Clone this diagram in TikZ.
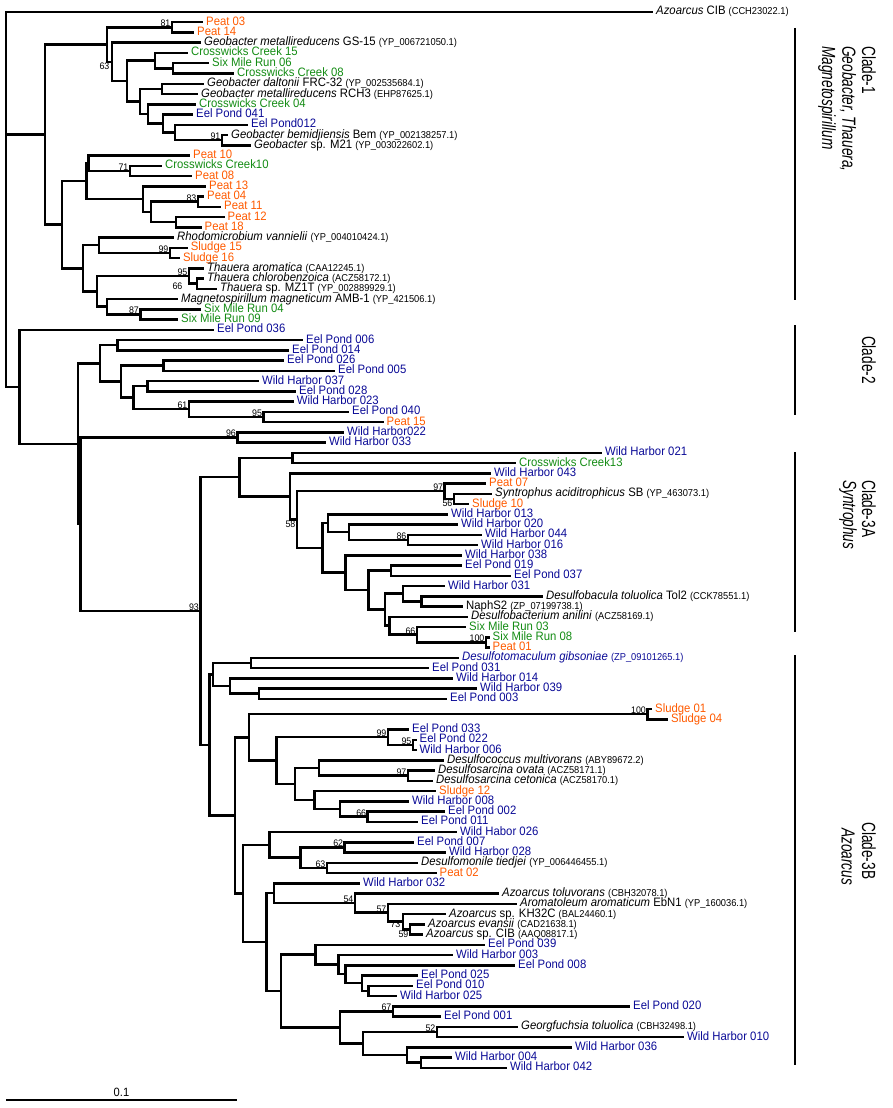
\documentclass[tikz,border=0pt]{standalone}
\usepackage{fontspec}
\setmainfont[FakeStretch=0.93]{Liberation Sans}
\newfontfamily\cladefont[FakeStretch=0.72]{Liberation Sans}
\usetikzlibrary{calc}
\definecolor{orng}{RGB}{255,90,0}
\definecolor{grn}{RGB}{20,140,20}
\definecolor{blu}{RGB}{10,10,150}
\newcommand\acc[1]{{\fontsize{10}{10}\selectfont #1}}
\newcommand\leaf[5]{\coordinate (#1) at (#3,{12+(#2-1)*10.25});\node[lab,#4] (#1t) at (#1) {#5};}
\newcommand\inode[4]{\path let \p1=($(#3)!0.5!(#4)$) in (#2pt,\y1) coordinate (#1);\draw[br] (#3) -| (#1) |- (#4);}
\tikzset{
  br/.style={line width=2.5pt, line cap=rect, line join=miter},
  lab/.style={anchor=west, inner sep=0pt, xshift=4pt, font=\fontsize{12.2}{12.2}\selectfont, text height=7pt, text depth=1pt},
  orl/.style={text=orng}, grl/.style={text=grn}, bll/.style={text=blu},
  bs/.style={inner sep=0.4pt, font=\fontsize{9.5}{9.5}\selectfont, text height=6.5pt, text depth=0pt},
  clade/.style={rotate=-90, inner sep=0pt, font=\cladefont\fontsize{19}{19}\selectfont},
  cbar/.style={line width=2.2pt},
}
\begin{document}
\begin{tikzpicture}[x=1pt,y=-1pt]
\useasboundingbox (0,0) rectangle (892,1108);
% ---- leaves
\leaf{L1}{1}{652}{}{\textit{Azoarcus} CIB \acc{(CCH23022.1)}}
\leaf{L2}{2}{202}{orl}{Peat 03}
\leaf{L3}{3}{193}{orl}{Peat 14}
\leaf{L4}{4}{200}{}{\textit{Geobacter metallireducens} GS-15 \acc{(YP\_006721050.1)}}
\leaf{L5}{5}{187}{grl}{Crosswicks Creek 15}
\leaf{L6}{6}{208}{grl}{Six Mile Run 06}
\leaf{L7}{7}{233}{grl}{Crosswicks Creek 08}
\leaf{L8}{8}{203}{}{\textit{Geobacter daltonii} FRC-32 \acc{(YP\_002535684.1)}}
\leaf{L9}{9}{197}{}{\textit{Geobacter metallireducens} RCH3 \acc{(EHP87625.1)}}
\leaf{L10}{10}{195}{grl}{Crosswicks Creek 04}
\leaf{L11}{11}{192}{bll}{Eel Pond 041}
\leaf{L12}{12}{247}{bll}{Eel Pond012}
\leaf{L13}{13}{227}{}{\textit{Geobacter bemidjiensis} Bem \acc{(YP\_002138257.1)}}
\leaf{L14}{14}{250}{}{\textit{Geobacter} sp. M21 \acc{(YP\_003022602.1)}}
\leaf{L15}{15}{189}{orl}{Peat 10}
\leaf{L16}{16}{161}{grl}{Crosswicks Creek10}
\leaf{L17}{17}{191}{orl}{Peat 08}
\leaf{L18}{18}{205}{orl}{Peat 13}
\leaf{L19}{19}{203}{orl}{Peat 04}
\leaf{L20}{20}{220}{orl}{Peat 11}
\leaf{L21}{21}{223.5}{orl}{Peat 12}
\leaf{L22}{22}{200.5}{orl}{Peat 18}
\leaf{L23}{23}{173}{}{\textit{Rhodomicrobium vannielii} \acc{(YP\_004010424.1)}}
\leaf{L24}{24}{186.6}{orl}{Sludge 15}
\leaf{L25}{25}{178.8}{orl}{Sludge 16}
\leaf{L26}{26}{203}{}{\textit{Thauera aromatica} \acc{(CAA12245.1)}}
\leaf{L27}{27}{203}{}{\textit{Thauera chlorobenzoica} \acc{(ACZ58172.1)}}
\leaf{L28}{28}{216}{}{\textit{Thauera} sp. MZ1T \acc{(YP\_002889929.1)}}
\leaf{L29}{29}{177}{}{\textit{Magnetospirillum magneticum} AMB-1 \acc{(YP\_421506.1)}}
\leaf{L30}{30}{200}{grl}{Six Mile Run 04}
\leaf{L31}{31}{177}{grl}{Six Mile Run 09}
\leaf{L32}{32}{213}{bll}{Eel Pond 036}
\leaf{L33}{33}{302}{bll}{Eel Pond 006}
\leaf{L34}{34}{288}{bll}{Eel Pond 014}
\leaf{L35}{35}{283}{bll}{Eel Pond 026}
\leaf{L36}{36}{334}{bll}{Eel Pond 005}
\leaf{L37}{37}{258}{bll}{Wild Harbor 037}
\leaf{L38}{38}{295}{bll}{Eel Pond 028}
\leaf{L39}{39}{292.6}{bll}{Wild Harbor 023}
\leaf{L40}{40}{348}{bll}{Eel Pond 040}
\leaf{L41}{41}{382.5}{orl}{Peat 15}
\leaf{L42}{42}{343}{bll}{Wild Harbor022}
\leaf{L43}{43}{325}{bll}{Wild Harbor 033}
\leaf{L44}{44}{601}{bll}{Wild Harbor 021}
\leaf{L45}{45}{515}{grl}{Crosswicks Creek13}
\leaf{L46}{46}{490}{bll}{Wild Harbor 043}
\leaf{L47}{47}{485}{orl}{Peat 07}
\leaf{L48}{48}{491}{}{\textit{Syntrophus aciditrophicus} SB \acc{(YP\_463073.1)}}
\leaf{L49}{49}{468}{orl}{Sludge 10}
\leaf{L50}{50}{447}{bll}{Wild Harbor 013}
\leaf{L51}{51}{457}{bll}{Wild Harbor 020}
\leaf{L52}{52}{481}{bll}{Wild Harbor 044}
\leaf{L53}{53}{477}{bll}{Wild Harbor 016}
\leaf{L54}{54}{461}{bll}{Wild Harbor 038}
\leaf{L55}{55}{461}{bll}{Eel Pond 019}
\leaf{L56}{56}{510}{bll}{Eel Pond 037}
\leaf{L57}{57}{444}{bll}{Wild Harbor 031}
\leaf{L58}{58}{542}{}{\textit{Desulfobacula toluolica} Tol2 \acc{(CCK78551.1)}}
\leaf{L59}{59}{462}{}{NaphS2 \acc{(ZP\_07199738.1)}}
\leaf{L60}{60}{467}{}{\textit{Desulfobacterium anilini} \acc{(ACZ58169.1)}}
\leaf{L61}{61}{465}{grl}{Six Mile Run 03}
\leaf{L62}{62}{488.5}{grl}{Six Mile Run 08}
\leaf{L63}{63}{488.5}{orl}{Peat 01}
\leaf{L64}{64}{458}{bll}{\textit{Desulfotomaculum gibsoniae} \acc{(ZP\_09101265.1)}}
\leaf{L65}{65}{428}{bll}{Eel Pond 031}
\leaf{L66}{66}{452}{bll}{Wild Harbor 014}
\leaf{L67}{67}{476}{bll}{Wild Harbor 039}
\leaf{L68}{68}{446}{bll}{Eel Pond 003}
\leaf{L69}{69}{651}{orl}{Sludge 01}
\leaf{L70}{70}{667}{orl}{Sludge 04}
\leaf{L71}{71}{408}{bll}{Eel Pond 033}
\leaf{L72}{72}{415.5}{bll}{Eel Pond 022}
\leaf{L73}{73}{415.5}{bll}{Wild Harbor 006}
\leaf{L74}{74}{443}{}{\textit{Desulfococcus multivorans} \acc{(ABY89672.2)}}
\leaf{L75}{75}{434}{}{\textit{Desulfosarcina ovata} \acc{(ACZ58171.1)}}
\leaf{L76}{76}{432}{}{\textit{Desulfosarcina cetonica} \acc{(ACZ58170.1)}}
\leaf{L77}{77}{435}{orl}{Sludge 12}
\leaf{L78}{78}{408}{bll}{Wild Harbor 008}
\leaf{L79}{79}{444}{bll}{Eel Pond 002}
\leaf{L80}{80}{417}{bll}{Eel Pond 011}
\leaf{L81}{81}{456}{bll}{Wild Habor 026}
\leaf{L82}{82}{413}{bll}{Eel Pond 007}
\leaf{L83}{83}{445}{bll}{Wild Harbor 028}
\leaf{L84}{84}{417}{}{\textit{Desulfomonile tiedjei} \acc{(YP\_006446455.1)}}
\leaf{L85}{85}{435.5}{orl}{Peat 02}
\leaf{L86}{86}{359}{bll}{Wild Harbor 032}
\leaf{L87}{87}{498}{}{\textit{Azoarcus toluvorans} \acc{(CBH32078.1)}}
\leaf{L88}{88}{516}{}{\textit{Aromatoleum aromaticum} EbN1 \acc{(YP\_160036.1)}}
\leaf{L89}{89}{445}{}{\textit{Azoarcus} sp. KH32C \acc{(BAL24460.1)}}
\leaf{L90}{90}{424}{}{\textit{Azoarcus evansii} \acc{(CAD21638.1)}}
\leaf{L91}{91}{422}{}{\textit{Azoarcus} sp. CIB \acc{(AAQ08817.1)}}
\leaf{L92}{92}{484}{bll}{Eel Pond 039}
\leaf{L93}{93}{452}{bll}{Wild Harbor 003}
\leaf{L94}{94}{514}{bll}{Eel Pond 008}
\leaf{L95}{95}{417}{bll}{Eel Pond 025}
\leaf{L96}{96}{412}{bll}{Eel Pond 010}
\leaf{L97}{97}{396}{bll}{Wild Harbor 025}
\leaf{L98}{98}{629}{bll}{Eel Pond 020}
\leaf{L99}{99}{440}{bll}{Eel Pond 001}
\leaf{L100}{100}{517}{}{\textit{Georgfuchsia toluolica} \acc{(CBH32498.1)}}
\leaf{L101}{101}{683}{bll}{Wild Harbor 010}
\leaf{L102}{102}{571}{bll}{Wild Harbor 036}
\leaf{L103}{103}{451}{bll}{Wild Harbor 004}
\leaf{L104}{104}{506}{bll}{Wild Harbor 042}
% ---- clade 1
\inode{N81}{172}{L2}{L3}
\inode{N5}{173}{L6}{L7}
\inode{N4}{155}{L5}{N5}
\inode{N7}{162}{L8}{L9}
\inode{N91}{222}{L13}{L14}
\inode{N10}{175}{L12}{N91}
\inode{N9}{163}{L11}{N10}
\inode{N8}{148}{L10}{N9}
\inode{N6}{140}{N7}{N8}
\inode{N3}{127}{N4}{N6}
\inode{N2}{112}{L4}{N3}
\inode{N1}{107}{N81}{N2}
\inode{N71}{130}{L16}{L17}
\inode{M2a}{88.5}{L15}{N71}
\inode{N83}{198}{L19}{L20}
\inode{M8}{176}{L21}{L22}
\inode{M7}{151}{N83}{M8}
\inode{M6}{143}{L18}{M7}
\inode{M2}{86.5}{M2a}{M6}
\inode{N99}{170}{L24}{L25}
\inode{M9}{99}{L23}{N99}
\inode{N66}{197}{L27}{L28}
\inode{M11}{189}{L26}{N66}
\inode{N87}{140.5}{L30}{L31}
\inode{M12}{107}{L29}{N87}
\inode{M10}{97}{M11}{M12}
\inode{M3}{83}{M9}{M10}
\inode{M1}{62}{M2}{M3}
\inode{C1}{45}{N1}{M1}
% ---- clade 2
\inode{C2a}{117.5}{L33}{L34}
\inode{C2c}{163.6}{L35}{L36}
\inode{C2e}{147.5}{L37}{L38}
\inode{N95}{263.6}{L40}{L41}
\inode{N61}{189}{L39}{N95}
\inode{C2d}{133.6}{C2e}{N61}
\inode{C2b}{121}{C2c}{C2d}
\inode{C2r}{100}{C2a}{C2b}
\inode{N96}{237.5}{L42}{L43}
% ---- clade 3A
\inode{A2}{292.6}{L44}{L45}
\inode{N56}{454}{L48}{L49}
\inode{N97}{444.7}{L47}{N56}
\inode{N86}{408}{L52}{L53}
\inode{A6b}{349}{L51}{N86}
\inode{A6}{328}{L50}{A6b}
\inode{A9}{390.8}{L55}{L56}
\inode{A11b}{421.7}{L58}{L59}
\inode{A11}{403}{L57}{A11b}
\inode{N100}{486}{L62}{L63}
\inode{N66b}{417}{L61}{N100}
\inode{A12}{389.4}{L60}{N66b}
\inode{A10}{384.8}{A11}{A12}
\inode{A8}{368.7}{A9}{A10}
\inode{A7}{345.6}{L54}{A8}
\inode{A5}{322.6}{A6}{A7}
\inode{A4}{297}{N97}{A5}
\inode{A3}{290}{L46}{A4}
\inode{A1}{239.6}{A2}{A3}
% ---- clade 3B
\inode{B2a}{251}{L64}{L65}
\inode{B2c}{259}{L67}{L68}
\inode{B2b}{230}{L66}{B2c}
\inode{B2}{213}{B2a}{B2b}
\inode{N100b}{647.5}{L69}{L70}
\inode{N95b}{413}{L72}{L73}
\inode{N99b}{388}{L71}{N95b}
\inode{N97b}{408}{L75}{L76}
\inode{B3d}{319}{L74}{N97b}
\inode{N66c}{367.7}{L79}{L80}
\inode{B3f}{340}{L78}{N66c}
\inode{B3e}{314.3}{L77}{B3f}
\inode{B3c}{295}{B3d}{B3e}
\inode{B3b}{276.5}{N99b}{B3c}
\inode{B3a}{249}{N100b}{B3b}
\inode{N62}{344.7}{L82}{L83}
\inode{N63}{327}{L84}{L85}
\inode{B4b}{300.5}{N62}{N63}
\inode{B4a}{269.6}{L81}{B4b}
\inode{N59}{410}{L90}{L91}
\inode{N73}{403}{L89}{N59}
\inode{N57}{388}{L88}{N73}
\inode{N54}{355}{L87}{N57}
\inode{B6}{274}{L86}{N54}
\inode{B7f}{368.7}{L96}{L97}
\inode{B7e}{361.8}{L95}{B7f}
\inode{B7d}{345.6}{L94}{B7e}
\inode{B7c}{338.7}{L93}{B7d}
\inode{B7a}{315.7}{L92}{B7c}
\inode{N67}{393}{L98}{L99}
\inode{N52}{437}{L100}{L101}
\inode{B7i}{421}{L103}{L104}
\inode{B7h}{406.9}{L102}{B7i}
\inode{B7g}{362.9}{N52}{B7h}
\inode{B7b}{340}{N67}{B7g}
\inode{B7}{281}{B7a}{B7b}
\inode{B5}{266.4}{B6}{B7}
\inode{B4}{243}{B4a}{B5}
\inode{B3}{235}{B3a}{B4}
\inode{B1}{209.7}{B2}{B3}
% ---- backbone
\inode{R3}{200.5}{A1}{B1}
\inode{R2b}{80.6}{N96}{R3}
\inode{R2}{78}{C2r}{R2b}
\inode{R1}{19.4}{L32}{R2}
\inode{root}{6}{L1}{R1}
\draw[br] (C1) -- (C1 -| root);
% ---- bootstrap values
\node[bs,anchor=south east,xshift=-1pt] (b81) at (N81) {81};
\node[bs,anchor=north east,xshift=-2pt,yshift=-1pt] (b63) at (N2) {63};
\node[bs,anchor=south east,xshift=-1pt] (b91) at (N91) {91};
\node[bs,anchor=south east,xshift=-1pt] (b71) at (N71) {71};
\node[bs,anchor=south east,xshift=-1pt] (b83) at (N83) {83};
\node[bs,anchor=south east,xshift=-1pt] (b99) at (N99) {99};
\node[bs,anchor=south east,xshift=-1pt] (b95) at (M11) {95};
\node[bs,anchor=north east,xshift=-6pt,yshift=-6pt] (b66) at (M11) {66};
\node[bs,anchor=south east,xshift=-1pt] (b87) at (N87) {87};
\node[bs,anchor=south east,xshift=-1pt] (b61) at (N61) {61};
\node[bs,anchor=south east,xshift=-1pt] (b95b) at (N95) {95};
\node[bs,anchor=south east,xshift=-1pt] (b96) at (N96) {96};
\node[bs,anchor=south east,xshift=-1pt] (b97) at (N97) {97};
\node[bs,anchor=north east,xshift=-1pt,yshift=-1pt] (b56) at (N56) {56};
\node[bs,anchor=north east,xshift=-1pt,yshift=-1pt] (b58) at (A4) {58};
\node[bs,anchor=south east,xshift=-1pt] (b86) at (N86) {86};
\node[bs,anchor=south east,xshift=-1pt] (b93) at (R3) {93};
\node[bs,anchor=south east,xshift=-1pt] (b66b) at (N66b) {66};
\node[bs,anchor=south east,xshift=-1pt] (b100) at (N100) {100};
\node[bs,anchor=south east,xshift=-1pt] (b100b) at (N100b) {100};
\node[bs,anchor=south east,xshift=-1pt] (b99b) at (N99b) {99};
\node[bs,anchor=south east,xshift=-1pt] (b95c) at (N95b) {95};
\node[bs,anchor=south east,xshift=-1pt] (b97b) at (N97b) {97};
\node[bs,anchor=south east,xshift=-1pt] (b66c) at (N66c) {66};
\node[bs,anchor=south east,xshift=-1pt] (b62) at (N62) {62};
\node[bs,anchor=south east,xshift=-1pt] (b63b) at (N63) {63};
\node[bs,anchor=south east,xshift=-1pt] (b54) at (N54) {54};
\node[bs,anchor=south east,xshift=-1pt] (b57) at (N57) {57};
\node[bs,anchor=east,xshift=-2pt,yshift=-3pt] (b73) at (N73) {73};
\node[bs,anchor=north east,xshift=-1pt,yshift=-1pt] (b59) at (N59) {59};
\node[bs,anchor=south east,xshift=-1pt] (b67) at (N67) {67};
\node[bs,anchor=south east,xshift=-1pt] (b52) at (N52) {52};
% ---- clade bars and labels
\coordinate (cb1a) at (795,28);  \coordinate (cb1b) at (795,300);
\coordinate (cb2a) at (795,325); \coordinate (cb2b) at (795,415);
\coordinate (cb3a) at (795,452); \coordinate (cb3b) at (795,632);
\coordinate (cb4a) at (795,655); \coordinate (cb4b) at (795,1065);
\draw[cbar] (cb1a) -- (cb1b);
\draw[cbar] (cb2a) -- (cb2b);
\draw[cbar] (cb3a) -- (cb3b);
\draw[cbar] (cb4a) -- (cb4b);
\node[clade,anchor=west] (cl1a) at (869,46) {Clade-1};
\node[clade,anchor=west] (cl1b) at (848,46) {\itshape Geobacter, Thauera,};
\node[clade,anchor=west] (cl1c) at (827,46) {\itshape Magnetospirillum};
\node[clade,anchor=center] (cl2) at (869,360) {Clade-2};
\node[clade,anchor=west] (cl3a) at (869,480) {Clade-3A};
\node[clade,anchor=west] (cl3b) at (848,480) {\itshape Syntrophus};
\node[clade,anchor=west] (cl4a) at (869,822) {Clade-3B};
\node[clade,anchor=west] (cl4b) at (848,828) {\itshape Azoarcus};
% ---- scale bar
\coordinate (sbL) at (6,1100);
\coordinate (sbR) at (237,1100);
\draw[line width=2.2pt] (sbL) -- (sbR);
\node[inner sep=0pt, font=\fontsize{12}{12}\selectfont, anchor=south] (sbt) at ($(sbL)!0.5!(sbR)+(0,-3)$) {0.1};
\end{tikzpicture}
\end{document}
